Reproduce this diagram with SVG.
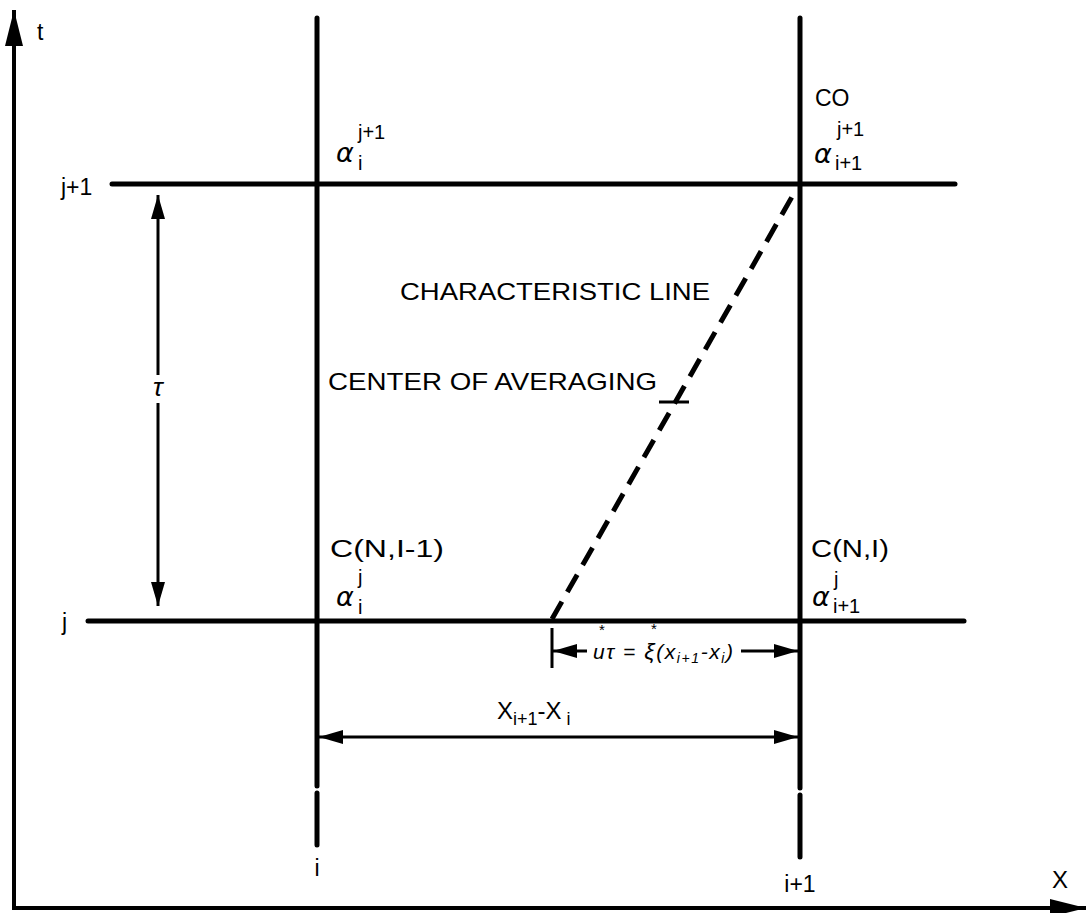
<svg xmlns="http://www.w3.org/2000/svg" width="1090" height="913" viewBox="0 0 1090 913">
<style>
.ln{stroke:#000;stroke-width:5;fill:none;stroke-linecap:round}
.ax{stroke:#000;stroke-width:4;fill:none}
.ar{stroke:#000;stroke-width:3;fill:none}
.dash{stroke:#000;stroke-width:5;fill:none;stroke-dasharray:20 11}
text{font-family:"Liberation Sans",Arial,sans-serif;fill:#000}
.lb{font-size:23px}
.big{font-size:24px}
.al{font-family:"DejaVu Sans","Liberation Sans",sans-serif;font-style:italic;font-size:27px}
.sc{font-size:20px}
.it{font-style:italic;font-size:21px}
.st{font-size:15px}
</style>
<defs>
<marker id="ah" viewBox="0 0 24 14" refX="24" refY="7" markerWidth="24" markerHeight="14" markerUnits="userSpaceOnUse" orient="auto-start-reverse">
<path d="M0,0 L24,7 L0,14 Z" fill="#000"/>
</marker>
<marker id="axh" viewBox="0 0 36 18" refX="36" refY="9" markerWidth="36" markerHeight="18" markerUnits="userSpaceOnUse" orient="auto">
<path d="M0,0 L36,9 L0,18 Z" fill="#000"/>
</marker>
</defs>

<g id="axes">
<line class="ax" x1="14" y1="908" x2="14" y2="10" marker-end="url(#axh)"/>
<line class="ax" x1="12" y1="908" x2="1086" y2="908" marker-end="url(#axh)"/>
<text x="37" y="40" class="lb">t</text>
<text x="1052" y="888" class="big">X</text>
</g>

<g id="grid">
<line class="ln" x1="112" y1="184" x2="955" y2="184"/>
<line class="ln" x1="88" y1="621" x2="964" y2="621"/>
<line class="ln" x1="317" y1="18" x2="317" y2="786"/>
<line class="ln" x1="317" y1="793" x2="317" y2="845"/>
<line class="ln" x1="800" y1="18" x2="800" y2="788"/>
<line class="ln" x1="800" y1="795" x2="800" y2="857"/>
<text x="61" y="195" class="lb">j+1</text>
<text x="62" y="630" class="lb">j</text>
<text x="317" y="876" class="lb" text-anchor="middle">i</text>
<text x="800" y="892" class="lb" text-anchor="middle">i+1</text>
</g>

<g id="node-a-i-j1">
<text x="336" y="162" class="al">α</text>
<text x="358" y="170" class="sc">i</text>
<text x="358" y="139" class="sc">j+1</text>
</g>

<g id="node-a-i1-j1">
<text x="815" y="106" class="lb">CO</text>
<text x="814" y="163" class="al">α</text>
<text x="835" y="170" class="sc">i+1</text>
<text x="837" y="136" class="sc">j+1</text>
</g>

<g id="node-a-i-j">
<text x="330" y="557" class="lb" textLength="114" lengthAdjust="spacingAndGlyphs">C(N,I-1)</text>
<text x="336" y="606" class="al">α</text>
<text x="358" y="614" class="sc">i</text>
<text x="358" y="584" class="sc">j</text>
</g>

<g id="node-a-i1-j">
<text x="811" y="557" class="lb" textLength="78" lengthAdjust="spacingAndGlyphs">C(N,I)</text>
<text x="812" y="606" class="al">α</text>
<text x="833" y="613" class="sc">i+1</text>
<text x="834" y="586" class="sc">j</text>
</g>

<g id="labels">
<text x="400" y="300" class="big" textLength="310" lengthAdjust="spacingAndGlyphs">CHARACTERISTIC LINE</text>
<text x="328" y="390" class="big" textLength="329" lengthAdjust="spacingAndGlyphs">CENTER OF AVERAGING</text>
<text x="153" y="396" class="it" style="font-size:26px">τ</text>
<text x="497" y="719" class="big">X<tspan dy="6" style="font-size:18px">i+1</tspan><tspan dy="-6">-X</tspan><tspan dy="6" style="font-size:18px"> i</tspan></text>
<text x="593" y="659" class="it" textLength="140" lengthAdjust="spacing">uτ = <tspan style="font-size:23px">ξ</tspan>(x<tspan dy="4" style="font-size:14px">i+1</tspan><tspan dy="-4">-x</tspan><tspan dy="4" style="font-size:14px">i</tspan><tspan dy="-4">)</tspan></text>
<text x="599" y="635" class="st">*</text>
<text x="651" y="634" class="st">*</text>
</g>

<g id="connectors">
<line class="dash" x1="552" y1="619" x2="797" y2="188"/>
<line class="ar" x1="659" y1="402" x2="689" y2="402"/>
<line class="ar" x1="158" y1="375" x2="158" y2="195" marker-end="url(#ah)"/>
<line class="ar" x1="158" y1="403" x2="158" y2="606" marker-end="url(#ah)"/>
<line class="ar" x1="319" y1="737" x2="798" y2="737" marker-start="url(#ah)" marker-end="url(#ah)"/>
<line class="ar" x1="552" y1="628" x2="552" y2="668"/>
<line class="ar" x1="553" y1="651" x2="587" y2="651" marker-start="url(#ah)"/>
<line class="ar" x1="741" y1="651" x2="798" y2="651" marker-end="url(#ah)"/>
</g>
</svg>
